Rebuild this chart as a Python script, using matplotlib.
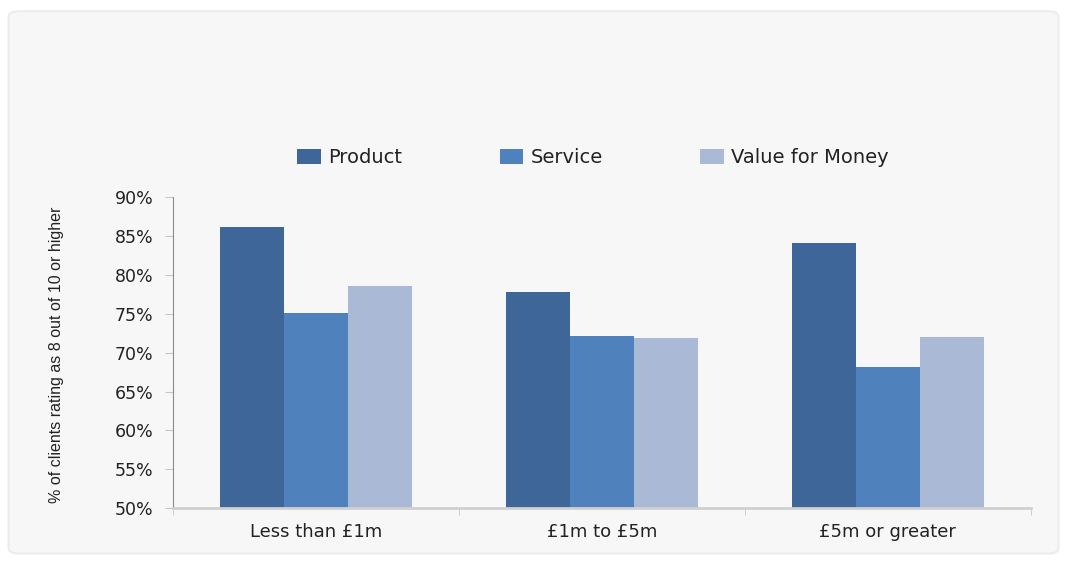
import numpy as np
import matplotlib.pyplot as plt
from matplotlib.patches import FancyBboxPatch, Patch

categories = ["Less than £1m", "£1m to £5m", "£5m or greater"]
series = ["Product", "Service", "Value for Money"]
product = [86.2, 77.8, 84.1]
service = [75.1, 72.1, 68.1]
value_for_money = [78.6, 71.9, 72.0]
colors = ["#3f6699", "#4f81bd", "#a9b9d6"]
yticks = [50, 55, 60, 65, 70, 75, 80, 85, 90]

fig = plt.figure(figsize=(10.67, 5.62), dpi=100)
fig.patch.set_facecolor("white")

# light grey panel behind the chart
panel = FancyBboxPatch((0.008, 0.015), 0.984, 0.965, boxstyle="round,pad=0,rounding_size=0.01",
                       transform=fig.transFigure, facecolor="#f7f7f7", edgecolor="#ececec",
                       linewidth=1.5, zorder=-5)
fig.patches.append(panel)

ax = fig.add_axes([0.162, 0.096, 0.804, 0.553])
ax.set_facecolor("none")

x = np.arange(len(categories))
w = 0.224
for i, (vals, c) in enumerate(zip([product, service, value_for_money], colors)):
    ax.bar(x + (i - 1) * w, np.array(vals) - 50, width=w, bottom=50, color=c, zorder=2)

ax.set_xlim(-0.5, len(categories) - 0.5)
ax.set_ylim(50, 90)
ax.set_yticks(yticks)
ax.set_yticklabels([f"{t}%" for t in yticks], fontsize=12.5, color="#222222")
ax.set_xticks(x)
ax.set_xticklabels(categories, fontsize=13, color="#222222")
ax.tick_params(axis="x", length=0, pad=11)
ax.tick_params(axis="y", length=6, color="#c8c8c8", pad=8)
# minor ticks at group boundaries
ax.set_xticks(np.arange(len(categories) + 1) - 0.5, minor=True)
ax.tick_params(axis="x", which="minor", length=5, color="#c8c8c8", direction="out")

for s in ["top", "right"]:
    ax.spines[s].set_visible(False)
ax.spines["left"].set_color("#8a8a8a")
ax.spines["bottom"].set_color("#d0d0d0")
ax.spines["bottom"].set_linewidth(2)

fig.text(0.053, 0.368, "% of clients rating as 8 out of 10 or higher", rotation=90,
         ha="center", va="center", fontsize=11.5, color="#222222",
         family="Liberation Sans")

handles = [Patch(facecolor=c, edgecolor="none") for c in colors]
fig.legend(handles, series, loc="center", bbox_to_anchor=(0.556, 0.719), ncol=3,
           frameon=False, fontsize=14, handlelength=1.2, handleheight=0.8,
           handletextpad=0.4, columnspacing=5.0, labelcolor="#222222")

fig.savefig("out.png", dpi=100, facecolor=fig.get_facecolor())
